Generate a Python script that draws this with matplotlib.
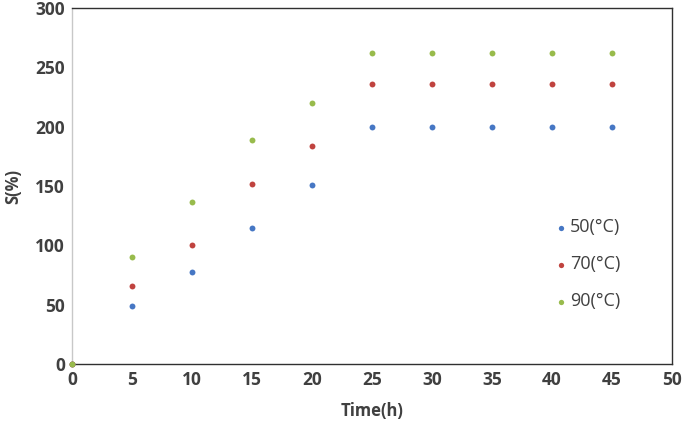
import matplotlib
matplotlib.use("Agg")
import matplotlib.pyplot as plt

time_h = [0, 5, 10, 15, 20, 25, 30, 35, 40, 45]
s_50 = [0, 49, 78, 115, 151, 200, 200, 200, 200, 200]
s_70 = [0, 66, 100, 152, 184, 236, 236, 236, 236, 236]
s_90 = [0, 90, 137, 189, 220, 262, 262, 262, 262, 262]
labels = ["50(°C)", "70(°C)", "90(°C)"]
colors = ["#4677c4", "#c0433f", "#98bb4c"]

plt.rcParams["font.family"] = ["Open Sans", "DejaVu Sans"]
txt = "#404040"

fig = plt.figure(figsize=(6.85, 4.22), dpi=100)
ax = fig.add_axes([0.105, 0.137, 0.876, 0.844])

for ys, lab, c in zip([s_50, s_70, s_90], labels, colors):
    ax.scatter(time_h, ys, s=18, color=c, linewidths=0, label=lab,
               zorder=3, clip_on=False)

ax.set_xlim(0, 50)
ax.set_ylim(0, 300)
ax.set_xticks(range(0, 51, 5))
ax.set_yticks(range(0, 301, 50))
ax.tick_params(length=0, labelsize=12.5, labelcolor=txt, pad=5)
for lbl in ax.get_xticklabels() + ax.get_yticklabels():
    lbl.set_fontweight("bold")

for side in ["top", "right", "bottom"]:
    ax.spines[side].set_color("#303030")
    ax.spines[side].set_linewidth(1.0)
ax.spines["left"].set_color("#c8c8c8")
ax.spines["left"].set_linewidth(1.0)

ax.set_xlabel("Time(h)", fontsize=12, fontweight="bold", color=txt, labelpad=9)
ax.set_ylabel("S(%)", fontsize=12, fontweight="bold", color=txt, labelpad=9)

leg = ax.legend(loc="upper left", bbox_to_anchor=(0.782, 0.521),
                bbox_transform=fig.transFigure, frameon=False,
                fontsize=13, handletextpad=0.0, labelspacing=1.05,
                markerscale=0.9, handlelength=1.0)
for t in leg.get_texts():
    t.set_color(txt)

fig.savefig("out.png", dpi=100)
